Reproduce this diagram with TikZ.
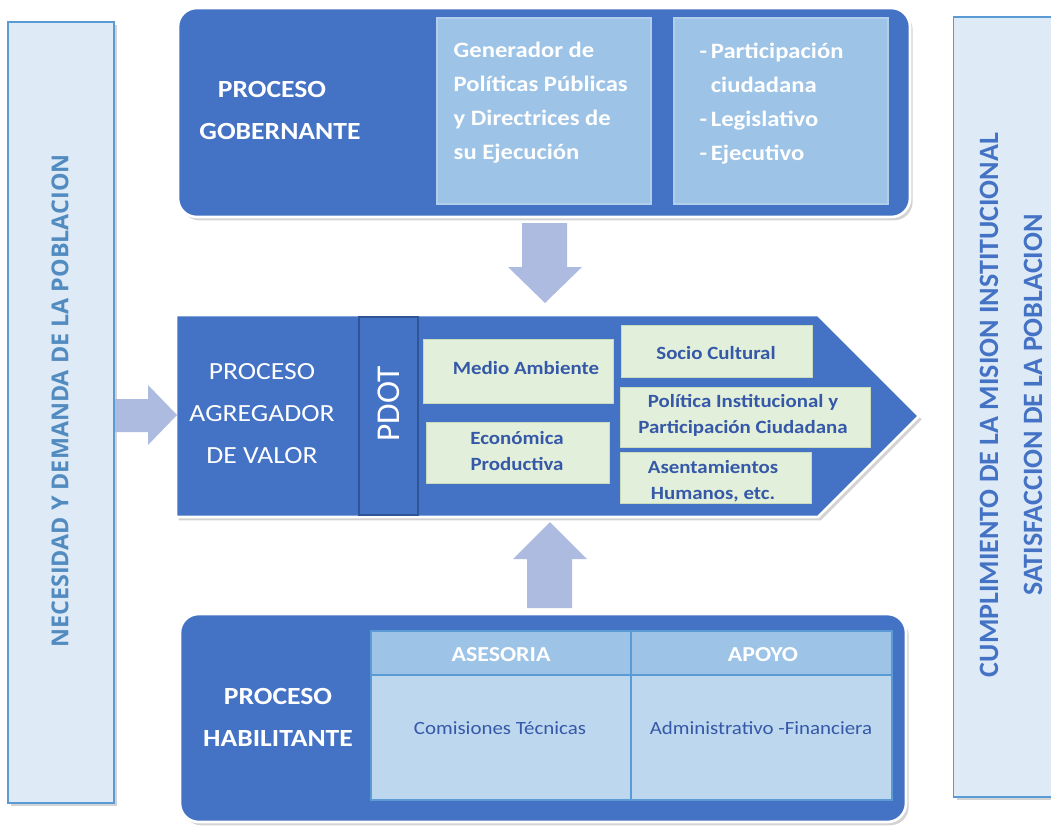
\documentclass[tikz,border=0pt]{standalone}
\usepackage{fontspec}
\setmainfont{Carlito}[FakeStretch=1.12]
\newfontfamily\plainc{Carlito}
\newfontfamily\osans{Open Sans}
\usetikzlibrary{shadows}
\definecolor{mainblue}{HTML}{4472C4}
\definecolor{darkblue}{HTML}{2F5597}
\definecolor{lightbox}{HTML}{9DC3E6}
\definecolor{paleblue}{HTML}{BDD7EE}
\definecolor{panelfill}{HTML}{DEEBF7}
\definecolor{panelline}{HTML}{5B9BD5}
\definecolor{greenfill}{HTML}{E2EFDA}
\definecolor{greenline}{HTML}{C9DDBE}
\definecolor{arrowfill}{RGB}{174,187,224}
\definecolor{gtext}{HTML}{3558A8}
\tikzset{
  bigshadow/.style={drop shadow={opacity=0.35,shadow xshift=2pt,shadow yshift=-2.5pt}},
  panel/.style={rectangle,fill=panelfill,draw=panelline,line width=1pt,inner sep=0pt,
    drop shadow={opacity=0.35,shadow xshift=2.5pt,shadow yshift=-2pt}},
  mainbox/.style={rectangle,rounded corners=14pt,fill=mainblue,draw=white,line width=2pt,inner sep=0pt,bigshadow},
  inbox/.style={rectangle,fill=lightbox,draw=lightbox!80!white,line width=1.5pt,inner sep=0pt},
  greenbox/.style={rectangle,fill=greenfill,draw=greenline,line width=0.6pt,inner sep=0pt},
  gtxt/.style={text=gtext,font=\fontsize{14}{19.5}\selectfont\bfseries,align=center},
  wbold/.style={text=white,font=\fontsize{18.5}{31.5}\selectfont\bfseries,align=center},
  blockarrow/.style={fill=arrowfill,draw=none},
  cell/.style={rectangle,draw=panelline,line width=0.8pt,inner sep=0pt},
}
\begin{document}
\begin{tikzpicture}[x=0.75pt,y=-0.75pt]
\useasboundingbox (0,0) rectangle (1051,826);

% side panels
\node[panel,minimum width=79.5pt,minimum height=585.75pt] (leftpanel) at (61,412.5) {};
\node[rotate=90,text=panelline!90!black,font=\osans\fontsize{17.5}{20}\selectfont\bfseries] (lefttext) at (60,401) {NECESIDAD Y DEMANDA DE LA POBLACION};
\node[panel,minimum width=80pt,minimum height=585pt] (rightpanel) at (1006.5,407) {};
\node[rotate=90,text=mainblue,font=\plainc\fontsize{21}{33}\selectfont\bfseries,align=center] (righttext) at (1011,405)
  {CUMPLIMIENTO DE LA MISION INSTITUCIONAL\\SATISFACCION DE LA POBLACION};

% top box
\node[mainbox,minimum width=549pt,minimum height=156.75pt] (top) at (544,112.5) {};
\node[inbox,minimum width=160.5pt,minimum height=139.5pt] (gen) at (544,111) {};
\node[inbox,minimum width=160.5pt,minimum height=139.5pt] (part) at (781,111) {};
\node[wbold] (gob) at (280,110) {PROCESO\hspace*{12pt}\\GOBERNANTE};
\node[text=white,font=\fontsize{16.5}{25.5}\selectfont\bfseries,align=left,anchor=west] (gentext) at (449,103)
  {Generador de\\Políticas Públicas\\y Directrices de\\su Ejecución};
\node[text=white,font=\fontsize{16.5}{25.5}\selectfont\bfseries,align=left,anchor=west] (parttext) at (695,104)
  {-\,Participación\\\hphantom{-\,}ciudadana\\-\,Legislativo\\-\,Ejecutivo};

% down arrow
\fill[blockarrow] (522,223) -- (567,223) -- (567,267) -- (582,267) -- (545,303) -- (508,267) -- (522,267) -- cycle;

% middle pentagon arrow
\draw[fill=mainblue,draw=white,line width=2pt,bigshadow] (176,315) -- (818,315) -- (919,416) -- (818,517) -- (176,517) -- cycle;
\coordinate (midleft) at (176,416);
\node[text=white,font=\fontsize{18.5}{31.5}\selectfont,align=center] (agr) at (262,414) {PROCESO\\AGREGADOR\\DE VALOR};
\node[rectangle,fill=mainblue,draw=darkblue,line width=1.6pt,minimum width=44.25pt,minimum height=148.5pt] (pdot) at (388.5,416) {};
\node[rotate=90,text=white,font=\plainc\fontsize{25}{30}\selectfont] (pdottext) at (388.5,404) {PDOT};

% green boxes
\node[greenbox,minimum width=142.5pt,minimum height=48pt] (medio) at (518,371) {};
\node[gtxt] at (526,368) {Medio Ambiente};
\node[greenbox,minimum width=143.25pt,minimum height=39pt] (socio) at (716.5,351) {};
\node[gtxt] at (716,353) {Socio Cultural};
\node[greenbox,minimum width=137.25pt,minimum height=45.75pt] (econ) at (517.5,452.5) {};
\node[gtxt] at (517,451) {Económica\\Productiva};
\node[greenbox,minimum width=187.5pt,minimum height=45pt] (poli) at (745,417) {};
\node[gtxt] at (743,415) {Política Institucional y\\Participación Ciudadana};
\node[greenbox,minimum width=143.25pt,minimum height=38.25pt] (asen) at (715.5,477.5) {};
\node[gtxt] at (713,481) {Asentamientos\\Humanos, etc.};

% left arrow
\fill[blockarrow] (115,399) -- (148,399) -- (148,385) -- (177,415) -- (148,445) -- (148,432) -- (115,432) -- cycle;

% up arrow
\fill[blockarrow] (527,608) -- (572,608) -- (572,559) -- (587,559) -- (550,522) -- (513,559) -- (527,559) -- cycle;

% bottom box
\node[mainbox,minimum width=544.5pt,minimum height=156pt] (bottom) at (543,718) {};
\node[wbold] (hab) at (278,717) {PROCESO\\HABILITANTE};
\node[cell,fill=lightbox,minimum width=195pt,minimum height=33pt] (ases) at (501,653) {};
\node[cell,fill=lightbox,minimum width=195.75pt,minimum height=33pt] (apoyo) at (761.5,653) {};
\node[cell,fill=paleblue,minimum width=195pt,minimum height=93.75pt] (comis) at (501,737.5) {};
\node[cell,fill=paleblue,minimum width=195.75pt,minimum height=93.75pt] (admin) at (761.5,737.5) {};
\node[text=white,font=\fontsize{16}{20}\selectfont\bfseries] at (501,655) {ASESORIA};
\node[text=white,font=\fontsize{16}{20}\selectfont\bfseries] at (763,655) {APOYO};
\node[text=gtext,font=\fontsize{14}{18}\selectfont] at (500,728) {Comisiones Técnicas};
\node[text=gtext,font=\fontsize{14}{18}\selectfont] at (761,728) {Administrativo -Financiera};
\end{tikzpicture}
\end{document}
